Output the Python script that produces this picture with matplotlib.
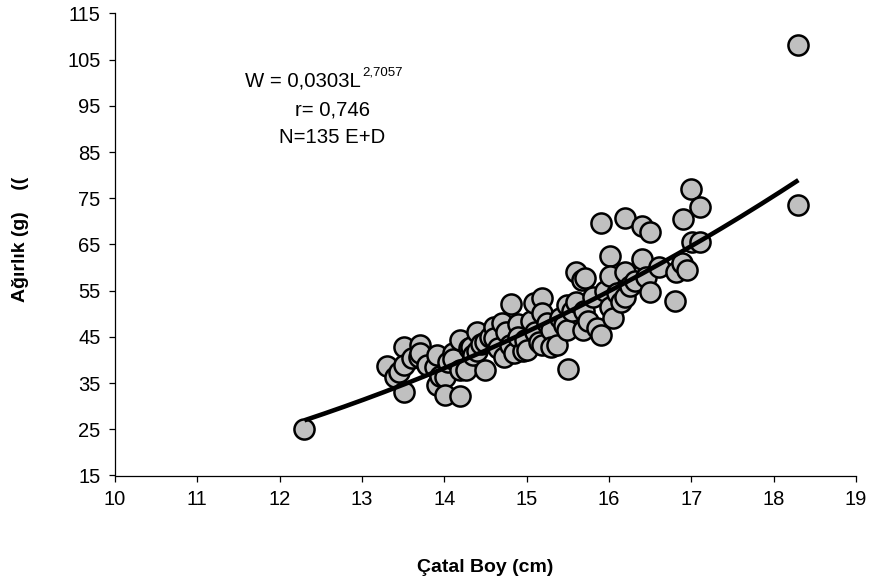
import numpy as np
import matplotlib
matplotlib.use("Agg")
import matplotlib.pyplot as plt

plt.rcParams['font.family'] = ['Liberation Sans', 'DejaVu Sans']

# Fork length (cm) and weight (g)
boy = [12.3, 13.30, 13.40, 13.45, 13.51, 13.51, 13.51, 13.61, 13.69, 13.71,
       13.71, 13.79, 13.89, 13.91, 13.91, 13.95, 14.01, 14.01, 14.05, 14.11,
       14.10, 14.19, 14.19, 14.19, 14.26, 14.30, 14.32, 14.35, 14.40, 14.40,
       14.45, 14.50, 14.50, 14.55, 14.60, 14.60, 14.65, 14.70, 14.72, 14.75,
       14.80, 14.81, 14.85, 14.90, 14.90, 14.95, 14.98, 15.01, 15.05, 15.09,
       15.10, 15.15, 15.19, 15.19, 15.19, 15.25, 15.29, 15.30, 15.37, 15.40,
       15.45, 15.49, 15.49, 15.50, 15.55, 15.60, 15.60, 15.67, 15.69, 15.71,
       15.70, 15.75, 15.81, 15.85, 15.90, 15.90, 15.95, 16.01, 16.01, 16.01,
       16.05, 16.10, 16.15, 16.20, 16.20, 16.20, 16.25, 16.32, 16.40, 16.40,
       16.45, 16.50, 16.50, 16.61, 16.80, 16.81, 16.89, 16.90, 16.95, 17.00,
       17.01, 17.10, 17.11, 18.30, 18.30]
agirlik = [25.0, 38.7, 36.4, 37.5, 42.9, 38.9, 33.1, 40.4, 40.7, 43.2,
           41.5, 38.9, 38.5, 41.1, 34.6, 36.5, 36.4, 32.4, 39.5, 41.5,
           40.2, 44.3, 37.8, 32.1, 37.8, 42.5, 42.9, 41.0, 46.1, 42.0,
           43.5, 37.8, 44.0, 45.0, 47.2, 44.7, 42.5, 48.0, 40.7, 46.0,
           43.2, 52.1, 41.5, 47.9, 45.0, 42.0, 44.3, 42.2, 48.5, 52.3,
           46.0, 44.0, 53.5, 50.1, 43.2, 48.0, 46.5, 42.8, 43.2, 49.0,
           47.5, 51.9, 46.5, 38.0, 50.5, 59.1, 52.5, 57.3, 46.5, 57.7,
           50.5, 48.5, 53.7, 47.0, 69.6, 45.5, 55.0, 62.5, 58.2, 51.5,
           49.0, 54.5, 52.5, 70.7, 59.1, 53.7, 56.0, 57.0, 68.9, 61.8,
           58.0, 67.8, 54.8, 60.2, 52.8, 59.1, 60.9, 70.5, 59.5, 77.0,
           65.6, 73.2, 65.6, 73.5, 108.2]

# power fit W = a*L^b
a = 0.0303
b = 2.7057

xticks = np.arange(10, 20, 1)
yticks = np.arange(15, 125, 10)

fig = plt.figure(figsize=(8.69, 5.85), dpi=100)
ax = fig.add_axes([115/869, 1-475.5/585, 741/869, 462/585])

ax.scatter(boy, agirlik, s=210, facecolor='#C0C0C0', edgecolor='black',
           linewidth=1.8, zorder=2, clip_on=False)

L = np.linspace(min(boy), max(boy), 200)
ax.plot(L, a*L**b, color='black', linewidth=3.3, zorder=3, solid_capstyle='butt')

ax.set_xlim(10, 19)
ax.set_ylim(15, 115)
ax.set_xticks(xticks)
ax.set_yticks(yticks)
ax.tick_params(direction='out', length=4.5, width=0.9, labelsize=14.5, pad=6)
for s in ['top', 'right']:
    ax.spines[s].set_visible(False)
for s in ['left', 'bottom']:
    ax.spines[s].set_linewidth(0.9)

# equation box, superscript sits right after the L
eq = ax.text(11.58, 99.1, 'W = 0,0303L', fontsize=14.7, ha='left', va='baseline')
fig.canvas.draw()
bb = eq.get_window_extent()
ax.annotate('2,7057', xy=(bb.x1, bb.y0), xycoords='figure pixels',
            xytext=(1, 11), textcoords='offset points', fontsize=9.5,
            ha='left', va='baseline')
ax.text(12.64, 93.0, 'r= 0,746', fontsize=14.7, ha='center', va='baseline')
ax.text(12.64, 87.0, 'N=135 E+D', fontsize=14.7, ha='center', va='baseline')

fig.text(485.5/869, 1-567/585, 'Çatal Boy (cm)', fontsize=14, fontweight='bold',
         ha='center', va='center')
fig.text(21/869, 1-239/585, 'Ağırlık (g)    ((', fontsize=14, fontweight='bold',
         rotation=90, ha='center', va='center')

fig.savefig('out.png', dpi=100)
